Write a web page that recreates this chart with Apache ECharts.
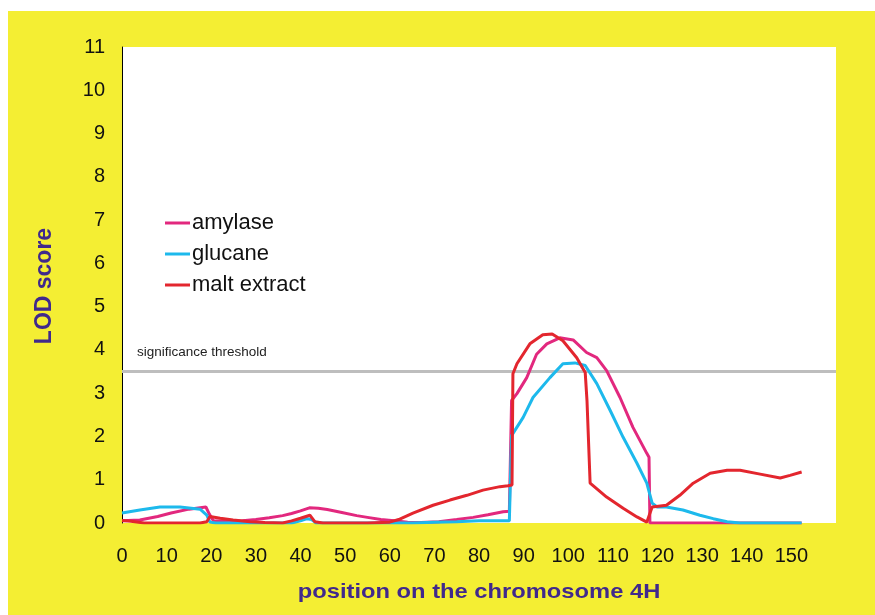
<!DOCTYPE html>
<html>
<head>
<meta charset="utf-8">
<script src="https://cdn.jsdelivr.net/npm/echarts@6/dist/echarts.min.js"></script>
<style>
html,body{margin:0;padding:0;background:#fff;}
#chart{width:875px;height:615px;}
</style>
</head>
<body>
<div id="chart"></div>
<script>
// ---- data ----
const xTicks = [0,10,20,30,40,50,60,70,80,90,100,110,120,130,140,150];
const yTicks = [0,1,2,3,4,5,6,7,8,9,10,11];
const threshold = 3.5;

const amylasePos = [0, 4, 8, 11, 15, 18.8, 19.6, 20.5, 24, 27, 30, 33, 36, 38, 40, 42, 44, 46, 49, 52.6, 55, 58, 61, 64, 67, 71, 75, 78.7, 82, 85.4, 86.8, 87.3, 88.5, 90.7, 92.9, 95.2, 98.1, 101.1, 104.1, 106.4, 108.6, 111.6, 114.5, 117.6, 118.1, 118.3, 125, 135, 145, 152.3];
const amylaseLOD = [0.05, 0.07, 0.15, 0.23, 0.32, 0.37, 0.2, 0.05, 0.04, 0.05, 0.08, 0.12, 0.17, 0.22, 0.28, 0.35, 0.34, 0.31, 0.25, 0.17, 0.13, 0.08, 0.05, 0.02, 0.01, 0.03, 0.08, 0.13, 0.19, 0.26, 0.27, 2.83, 2.99, 3.36, 3.9, 4.14, 4.28, 4.23, 3.94, 3.82, 3.52, 2.9, 2.21, 1.61, 1.52, 0, 0, 0, 0, 0];

const glucanePos = [0, 4, 8.5, 13, 17.5, 19, 19.7, 21, 30, 38, 40, 41.5, 42.5, 43.5, 55, 65, 70, 75, 80, 86.8, 87.3, 89.9, 92.1, 95.9, 98.8, 101.5, 103.8, 106.4, 109.4, 112.3, 115.4, 117.6, 118.8, 119.9, 122, 125.7, 129.5, 132.5, 135.6, 138.5, 145, 152.3];
const glucaneLOD = [0.23, 0.3, 0.37, 0.37, 0.32, 0.18, 0.02, 0, 0, 0, 0.05, 0.1, 0.08, 0, 0, 0, 0.02, 0.03, 0.05, 0.05, 2.02, 2.44, 2.9, 3.36, 3.68, 3.7, 3.64, 3.22, 2.6, 1.98, 1.38, 0.92, 0.46, 0.37, 0.37, 0.3, 0.18, 0.1, 0.03, 0, 0, 0];

const maltPos = [0, 2, 5, 10, 15, 17.5, 19, 19.7, 22, 24.9, 28.7, 32, 36, 38, 40, 42.1, 43.2, 45, 55, 60, 62, 65.2, 69.7, 73.5, 77.3, 80.9, 84.7, 86.5, 87.4, 87.6, 88.5, 91.4, 94.3, 96.4, 98.8, 101.9, 103.8, 104.2, 104.9, 108.6, 112.3, 115.4, 117.6, 118.8, 122, 125, 128, 131.8, 135.6, 138.5, 143, 147.5, 149.7, 152.3];
const maltLOD = [0.06, 0.04, 0, 0, 0, 0, 0.03, 0.15, 0.11, 0.07, 0.03, 0.01, 0, 0.05, 0.11, 0.18, 0.03, 0, 0, 0.02, 0.08, 0.23, 0.41, 0.53, 0.64, 0.76, 0.84, 0.86, 0.88, 3.45, 3.68, 4.14, 4.35, 4.37, 4.21, 3.82, 3.48, 2.83, 0.92, 0.6, 0.34, 0.14, 0.02, 0.37, 0.41, 0.64, 0.92, 1.15, 1.22, 1.22, 1.13, 1.04, 1.1, 1.18];

const seriesNames = ['amylase', 'glucane', 'malt extract'];
const seriesColors = ['#E2287E', '#1DB9EC', '#E3262E'];

// ---- build ----
const zip = (a, b) => a.map((x, i) => [x, b[i]]);
const font = '"Liberation Sans", Arial, Helvetica, sans-serif';
const titleColor = '#40298C';

const chart = echarts.init(document.getElementById('chart'), null, {renderer: 'canvas'});
const lineSeries = [
  [amylasePos, amylaseLOD],
  [glucanePos, glucaneLOD],
  [maltPos, maltLOD]
].map((d, i) => ({
  name: seriesNames[i],
  type: 'line',
  data: zip(d[0], d[1]),
  showSymbol: false,
  symbol: 'none',
  lineStyle: {color: seriesColors[i], width: 3},
  itemStyle: {color: seriesColors[i]},
  z: 3 + i,
  animation: false
}));

const option = {
  animation: false,
  backgroundColor: '#ffffff',
  graphic: [
    {type: 'rect', left: 8, top: 11, shape: {width: 867, height: 604}, style: {fill: '#F4EE33'}, z: -10, silent: true}
  ],
  grid: {left: 122, right: 39, top: 47, bottom: 92, show: true, backgroundColor: '#ffffff', borderWidth: 0},
  legend: {
    data: seriesNames,
    orient: 'vertical',
    left: 160,
    top: 207,
    icon: 'rect',
    itemWidth: 25,
    itemHeight: 3,
    itemGap: 9,
    textStyle: {fontFamily: font, fontSize: 22, color: '#111', padding: [0, 0, 0, -3]}
  },
  xAxis: {
    type: 'value',
    min: 0, max: 160, interval: 10,
    axisLine: {show: false},
    axisTick: {show: false},
    splitLine: {show: false},
    axisLabel: {
      fontFamily: font, fontSize: 20, color: '#111', margin: 23,
      showMaxLabel: false,
      formatter: v => xTicks.includes(v) ? String(v) : ''
    }
  },
  yAxis: {
    type: 'value',
    min: 0, max: 11, interval: 1,
    axisLine: {show: true, onZero: false, lineStyle: {color: '#000', width: 1}},
    axisTick: {show: false},
    splitLine: {show: false},
    axisLabel: {
      fontFamily: font, fontSize: 20, color: '#111', margin: 17,
      formatter: v => yTicks.includes(v) ? String(v) : ''
    }
  },
  series: [
    {
      name: 'threshold',
      type: 'line',
      data: [[0, threshold], [160, threshold]],
      showSymbol: false, symbol: 'none',
      lineStyle: {color: '#BEBEBE', width: 3},
      z: 2, silent: true
    },
    ...lineSeries
  ]
};
chart.setOption(option);

// text annotations placed relative to library scales
const tp = chart.convertToPixel({gridIndex: 0}, [0, threshold]);
const left0 = chart.convertToPixel({gridIndex: 0}, [0, 0]);
const right0 = chart.convertToPixel({gridIndex: 0}, [160, 0]);
const topY = chart.convertToPixel({gridIndex: 0}, [0, 11]);
chart.setOption({
  graphic: [
    {type: 'rect', left: 8, top: 11, shape: {width: 867, height: 604}, style: {fill: '#F4EE33'}, z: -10, silent: true},
    {type: 'text', x: tp[0] + 15, y: tp[1] - 26, z: 10,
      style: {text: 'significance threshold', font: '13.5px ' + font, fill: '#222'}},
    {type: 'text', x: (left0[0] + right0[0]) / 2, y: left0[1] + 69, z: 10, scaleX: 1.13,
      style: {text: 'position on the chromosome 4H', font: 'bold 21px ' + font, fill: titleColor, align: 'center', verticalAlign: 'middle'}},
    {type: 'text', x: 45, y: (left0[1] + topY[1]) / 2 + 1, rotation: Math.PI / 2, z: 10,
      style: {text: 'LOD score', font: 'bold 23px ' + font, fill: titleColor, align: 'center', verticalAlign: 'middle'}}
  ]
});
</script>
</body>
</html>
